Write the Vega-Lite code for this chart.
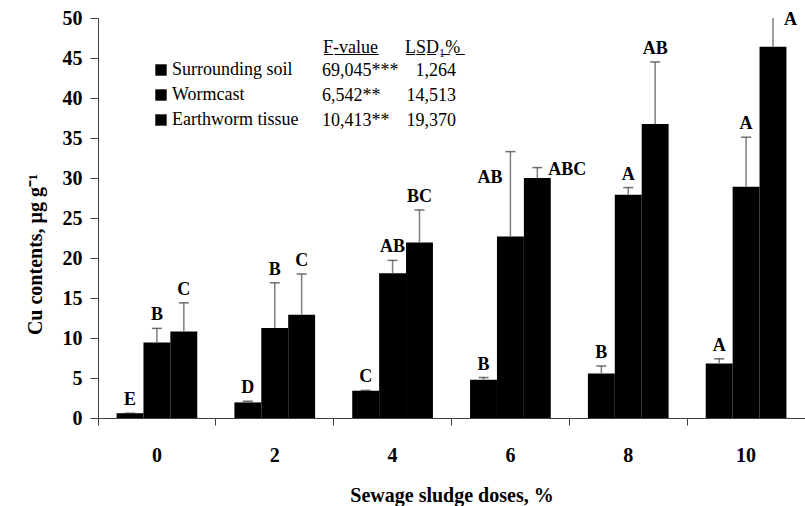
{
  "$schema": "https://vega.github.io/schema/vega-lite/v6.json",
  "width": 707,
  "height": 400,
  "autosize": "none",
  "padding": {"left": 98, "top": 18, "right": 0, "bottom": 88},
  "config": {
    "view": {"stroke": null},
    "font": "Liberation Serif",
    "axis": {"labelColor": "black", "titleColor": "black", "domainColor": "#404040", "tickColor": "#404040", "labelFont": "Liberation Serif", "titleFont": "Liberation Serif", "labelFontWeight": "bold", "titleFontWeight": "bold", "labelFontSize": 20, "titleFontSize": 20, "grid": false},
    "axisY": {"values": [0, 5, 10, 15, 20, 25, 30, 35, 40, 45, 50], "labelOverlap": false, "tickSize": 8, "labelPadding": 8, "titlePadding": 17, "titleY": 236},
    "legend": {"labelFont": "Liberation Serif", "titleFont": "Liberation Serif", "labelFontSize": 18, "titleFontSize": 18, "labelColor": "black", "titleColor": "black", "titleFontWeight": "normal", "padding": 0, "rowPadding": 7, "labelLimit": 400}
  },
  "datasets": {
    "cu": [
      {"dose": 0, "series": "Surrounding soil", "value": 0.6, "upper": 0.6, "letter": "E"},
      {"dose": 0, "series": "Wormcast", "value": 9.45, "upper": 11.2, "letter": "B"},
      {"dose": 0, "series": "Earthworm tissue", "value": 10.8, "upper": 14.4, "letter": "C"},
      {"dose": 2, "series": "Surrounding soil", "value": 1.95, "upper": 2.1, "letter": "D"},
      {"dose": 2, "series": "Wormcast", "value": 11.25, "upper": 16.9, "letter": "B"},
      {"dose": 2, "series": "Earthworm tissue", "value": 12.9, "upper": 18.0, "letter": "C"},
      {"dose": 4, "series": "Surrounding soil", "value": 3.4, "upper": 3.45, "letter": "C"},
      {"dose": 4, "series": "Wormcast", "value": 18.1, "upper": 19.7, "letter": "AB"},
      {"dose": 4, "series": "Earthworm tissue", "value": 21.95, "upper": 26.0, "letter": "BC"},
      {"dose": 6, "series": "Surrounding soil", "value": 4.77, "upper": 5.06, "letter": "B"},
      {"dose": 6, "series": "Wormcast", "value": 22.7, "upper": 33.3, "letter": "AB"},
      {"dose": 6, "series": "Earthworm tissue", "value": 30.0, "upper": 31.3, "letter": "ABC"},
      {"dose": 8, "series": "Surrounding soil", "value": 5.55, "upper": 6.5, "letter": "B"},
      {"dose": 8, "series": "Wormcast", "value": 27.9, "upper": 28.8, "letter": "A"},
      {"dose": 8, "series": "Earthworm tissue", "value": 36.75, "upper": 44.5, "letter": "AB"},
      {"dose": 10, "series": "Surrounding soil", "value": 6.8, "upper": 7.4, "letter": "A"},
      {"dose": 10, "series": "Wormcast", "value": 28.9, "upper": 35.1, "letter": "A"},
      {"dose": 10, "series": "Earthworm tissue", "value": 46.4, "upper": 50, "letter": "A"}
    ],
    "stats": [
      {"series": "Surrounding soil", "F": "69,045***", "LSD": "1,264"},
      {"series": "Wormcast", "F": "6,542**", "LSD": "14,513"},
      {"series": "Earthworm tissue", "F": "10,413**", "LSD": "19,370"}
    ]
  },
  "data": {"name": "cu"},
  "encoding": {
    "x": {
      "field": "dose", "type": "ordinal",
      "scale": {"paddingInner": 0, "paddingOuter": 0},
      "title": "Sewage sludge doses, %",
      "axis": {"bandPosition": 0, "labelAngle": 0, "tickSize": 7, "labelPadding": 20, "titlePadding": 20}
    },
    "xOffset": {
      "field": "series", "type": "nominal",
      "sort": ["Surrounding soil", "Wormcast", "Earthworm tissue"],
      "scale": {"paddingInner": 0, "paddingOuter": 0.69}
    }
  },
  "layer": [
    {
      "transform": [{"lookup": "series", "from": {"data": {"name": "stats"}, "key": "series", "fields": ["F", "LSD"]}}],
      "mark": {"type": "bar"},
      "encoding": {
        "y": {
          "field": "value", "type": "quantitative",
          "scale": {"domain": [0, 50], "nice": false},
          "title": "Cu contents, µg g⁻¹"
        },
        "color": {
          "field": "series", "type": "nominal",
          "scale": {"domain": ["Surrounding soil", "Wormcast", "Earthworm tissue"], "range": ["black", "black", "black"]},
          "legend": {"title": null, "orient": "none", "legendX": 54, "legendY": 43, "symbolType": "square", "symbolSize": 130, "symbolStrokeWidth": 0, "symbolOpacity": 1, "labelOffset": 2, "labelFont": "Liberation Serif", "labelFontSize": 18}
        },
        "opacity": {
          "field": "F", "type": "ordinal",
          "scale": {"domain": ["69,045***", "6,542**", "10,413**"], "range": [1, 1, 1]},
          "legend": {"title": "F̲-̲v̲a̲l̲u̲e̲", "orient": "none", "legendX": 225, "legendY": 21, "titlePadding": 5, "symbolSize": 0, "symbolOpacity": 0, "symbolStrokeWidth": 0, "labelOffset": -19, "labelFont": "Liberation Serif", "labelFontSize": 18, "titleFont": "Liberation Serif", "titleFontSize": 18, "titleFontWeight": "normal"}
        },
        "strokeDash": {
          "field": "LSD", "type": "nominal",
          "scale": {"domain": ["1,264", "14,513", "19,370"], "range": [[1, 0], [1, 0], [1, 0]]},
          "legend": {"title": "L̲S̲D̲₁̲%̲", "orient": "none", "legendX": 307, "legendY": 21, "titlePadding": 5, "symbolSize": 0, "symbolOpacity": 0, "symbolStrokeWidth": 0, "labelAlign": "right", "labelOffset": 33, "labelFont": "Liberation Serif", "labelFontSize": 18, "titleFont": "Liberation Serif", "titleFontSize": 18, "titleFontWeight": "normal"}
        }
      }
    },
    {
      "mark": {"type": "rule", "color": "#7f7f7f", "strokeWidth": 1.5},
      "encoding": {
        "y": {"field": "value", "type": "quantitative", "title": "Cu contents, µg g⁻¹"},
        "y2": {"field": "upper"}
      }
    },
    {
      "transform": [{"filter": "datum.upper < 50"}],
      "mark": {"type": "tick", "color": "#333333", "thickness": 1.5, "size": 10, "orient": "horizontal"},
      "encoding": {
        "y": {"field": "upper", "type": "quantitative", "title": "Cu contents, µg g⁻¹"}
      }
    },
    {
      "transform": [{"filter": "!((datum.dose == 6 && datum.series != 'Surrounding soil') || (datum.dose == 10 && datum.series == 'Earthworm tissue'))"}],
      "mark": {"type": "text", "dy": -8, "baseline": "alphabetic", "fontWeight": "bold", "fontSize": 18, "font": "Liberation Serif", "color": "black"},
      "encoding": {
        "y": {"field": "upper", "type": "quantitative", "title": "Cu contents, µg g⁻¹"},
        "text": {"field": "letter"}
      }
    },
    {
      "transform": [{"filter": "datum.dose == 6 && datum.series == 'Wormcast'"}],
      "mark": {"type": "text", "align": "right", "dx": -8, "dy": -53, "baseline": "alphabetic", "fontWeight": "bold", "fontSize": 18, "font": "Liberation Serif", "color": "black"},
      "encoding": {
        "y": {"field": "value", "type": "quantitative", "title": "Cu contents, µg g⁻¹"},
        "text": {"field": "letter"}
      }
    },
    {
      "transform": [{"filter": "(datum.dose == 6 || datum.dose == 10) && datum.series == 'Earthworm tissue'"}],
      "mark": {"type": "text", "align": "left", "dx": 11, "dy": 2, "baseline": "middle", "fontWeight": "bold", "fontSize": 18, "font": "Liberation Serif", "color": "black"},
      "encoding": {
        "y": {"field": "upper", "type": "quantitative", "title": "Cu contents, µg g⁻¹"},
        "text": {"field": "letter"}
      }
    }
  ]
}
